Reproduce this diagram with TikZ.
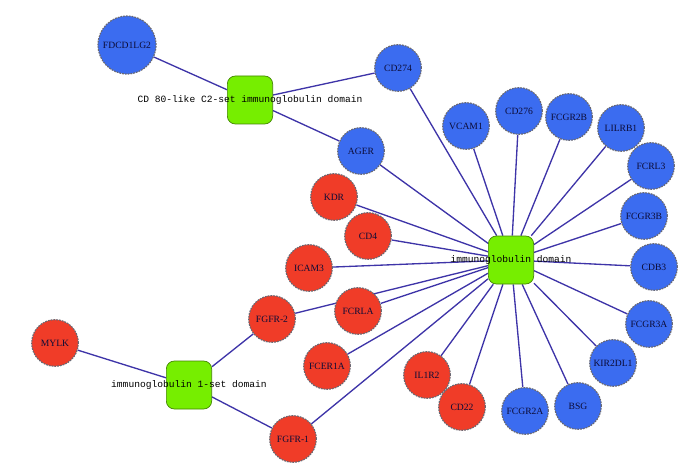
\documentclass[tikz,border=0pt]{standalone}
\usepackage{fontspec}
\setmainfont{Liberation Serif}
\setmonofont{Liberation Mono}
\usepackage{tikz}
\usetikzlibrary{backgrounds}
\definecolor{genblue}{RGB}{59,108,240}
\definecolor{genred}{RGB}{240,60,40}
\definecolor{domgreen}{RGB}{118,238,0}
\definecolor{edgeblue}{RGB}{62,52,168}
\definecolor{rimgray}{RGB}{105,105,115}
\definecolor{lblnavy}{RGB}{12,12,55}

\begin{document}
\begin{tikzpicture}[
  x=0.75pt, y=-0.75pt,
  every node/.style={font=\fontsize{7.2}{8}\selectfont},
  gene/.style={circle, draw=rimgray, dash pattern=on 1.3pt off 0.8pt,
               line width=0.9pt, minimum size=35pt, inner sep=0pt, text=lblnavy},
  bgene/.style={gene, fill=genblue},
  rgene/.style={gene, fill=genred},
  dom/.style={draw=domgreen!55!black, fill=domgreen, rounded corners=6pt,
              minimum width=34pt, minimum height=36pt, line width=0.5pt},
  domlbl/.style={font=\ttfamily\fontsize{7.2}{8}\selectfont, text=black},
  link/.style={draw=edgeblue, line width=1pt}
]
\useasboundingbox (0,0) rectangle (685,474);

% domain hubs
\node[dom,label={[domlbl]center:CD 80-like C2-set immunoglobulin domain}] (c2)   at (250,100) {};
\node[dom,label={[domlbl]center:immunoglobulin domain}]                   (ig)   at (511,260) {};
\node[dom,label={[domlbl]center:immunoglobulin 1-set domain}]             (iset) at (189,385) {};

% blue genes
\node[bgene,minimum size=43.5pt] (fdcd) at (127,45) {FDCD1LG2};
\node[bgene] (cd274)   at (398,68)  {CD274};
\node[bgene] (ager)    at (361,151) {AGER};
\node[bgene] (vcam1)   at (466,126) {VCAM1};
\node[bgene] (cd276)   at (519,111) {CD276};
\node[bgene] (fcgr2b)  at (569,117) {FCGR2B};
\node[bgene] (lilrb1)  at (621,128) {LILRB1};
\node[bgene] (fcrl3)   at (651,166) {FCRL3};
\node[bgene] (fcgr3b)  at (644,216) {FCGR3B};
\node[bgene] (cdb3)    at (654,267) {CDB3};
\node[bgene] (fcgr3a)  at (649,324) {FCGR3A};
\node[bgene] (kir2dl1) at (613,363) {KIR2DL1};
\node[bgene] (bsg)     at (578,406) {BSG};
\node[bgene] (fcgr2a)  at (525,411) {FCGR2A};

% red genes
\node[rgene] (kdr)    at (334,197) {KDR};
\node[rgene] (cd4)    at (368,236) {CD4};
\node[rgene] (icam3)  at (309,268) {ICAM3};
\node[rgene] (fcrla)  at (358,311) {FCRLA};
\node[rgene] (fgfr2)  at (272,319) {FGFR-2};
\node[rgene] (mylk)   at (55,343)  {MYLK};
\node[rgene] (fcer1a) at (327,366) {FCER1A};
\node[rgene] (fgfr1)  at (293,439) {FGFR-1};
\node[rgene] (il1r2)  at (427,375) {IL1R2};
\node[rgene] (cd22)   at (462,407) {CD22};

% links behind everything
\begin{scope}[on background layer]
\foreach \g in {fdcd,cd274,ager}
  \draw[link] (c2) -- (\g);
\foreach \g in {cd274,ager,vcam1,cd276,fcgr2b,lilrb1,fcrl3,fcgr3b,cdb3,
                fcgr3a,kir2dl1,bsg,fcgr2a,cd22,il1r2,fgfr1,fcer1a,fcrla,
                fgfr2,icam3,cd4,kdr}
  \draw[link] (ig) -- (\g);
\foreach \g in {mylk,fgfr2,fgfr1}
  \draw[link] (iset) -- (\g);
\end{scope}
\end{tikzpicture}
\end{document}
